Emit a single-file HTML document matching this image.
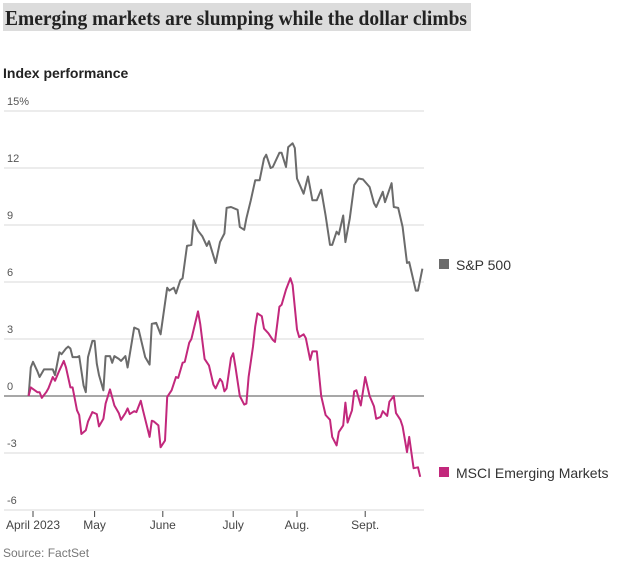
<!DOCTYPE html>
<html><head><meta charset="utf-8"><style>
body{margin:0;background:#fff;}
svg{display:block;font-family:"Liberation Sans",sans-serif;}
</style></head><body>
<svg id="chart" width="628" height="564" viewBox="0 0 628 564">
<rect x="3" y="3" width="468" height="28" fill="#dcdcdc"/>
<text x="5" y="25" font-family="Liberation Serif, serif" font-weight="bold" font-size="21" fill="#222" textLength="462" lengthAdjust="spacingAndGlyphs">Emerging markets are slumping while the dollar climbs</text>
<text x="3" y="78" font-weight="bold" font-size="14" fill="#222">Index performance</text>
<g id="grid"></g>
<g id="series"></g>
<g id="legend"></g>
<text x="3" y="557" font-size="12" fill="#777">Source: FactSet</text>
</svg>
<script>
const yTicks=[15,12,9,6,3,0,-3,-6];
const yTickLabels=["15%","12","9","6","3","0","-3","-6"];
const monthDays=[2,30,61,93,122,153];
const monthLabels=["April 2023","May","June","July","Aug.","Sept."];
const spDays=[0,1,2,4,5,7,9,11,12,14,15,17,18,19,20,22,23,25,26,27,29,30,31,32,34,35,37,38,39,41,42,44,45,48,50,53,55,56,58,60,63,64,66,67,69,70,72,74,75,77,79,81,82,85,87,89,90,92,95,96,98,99,101,103,105,107,108,110,111,114,115,117,118,120,121,122,125,127,129,131,133,135,137,138,140,141,143,144,146,148,150,152,155,157,158,161,162,165,166,168,170,172,173,176,177,179];
const spValues=[0,1.5,1.8,1.3,1.0,1.4,1.4,1.4,1.1,2.3,2.2,2.5,2.6,2.5,2.05,2.05,2.1,0.55,0.2,2.05,2.9,2.9,1.7,1.1,0.3,2.1,2.1,1.75,2.1,1.95,1.85,2.1,1.5,3.6,3.5,2.05,1.65,3.8,3.85,3.25,5.7,5.55,5.7,5.4,6.1,6.2,7.9,7.95,9.25,8.7,8.4,7.9,8.15,7.0,8.1,8.55,9.9,9.95,9.8,8.9,8.75,9.35,10.3,11.35,11.35,12.5,12.7,12.0,12.05,12.8,12.8,12.05,13.1,13.3,13.05,11.45,10.65,11.55,10.3,10.3,10.85,9.5,7.95,7.95,8.65,8.5,9.5,8.1,9.35,11.1,11.45,11.4,11.0,10.15,9.95,10.75,10.2,11.2,9.95,9.9,8.9,7.0,7.05,5.55,5.55,6.7];
const emDays=[0,1,4,5,6,8,9,11,12,14,16,17,19,20,22,23,24,26,27,29,31,32,34,35,37,39,40,41,42,44,45,46,48,49,51,52,55,56,57,59,60,62,63,65,67,68,70,71,73,74,77,78,80,82,84,85,87,88,89,90,92,93,94,96,98,99,100,102,103,104,106,107,109,111,112,114,115,117,119,120,122,123,125,126,128,129,131,133,135,137,138,140,141,143,144,145,147,148,149,151,153,155,157,158,160,161,163,164,166,167,169,170,172,173,175,177,178];
const emValues=[0,0.45,0.2,0.2,-0.1,0.2,0.4,1.0,0.8,1.35,1.85,1.5,0.45,0.45,-0.75,-1.0,-2.0,-1.8,-1.35,-0.85,-0.95,-1.6,-1.2,-0.4,0.35,-0.5,-0.7,-0.9,-1.25,-0.9,-0.65,-0.95,-0.8,-0.85,-0.25,-0.75,-2.15,-1.3,-1.35,-1.55,-2.7,-2.35,-0.05,0.3,1.0,0.95,1.75,1.8,2.8,3.0,4.45,3.8,1.95,1.6,0.6,0.4,0.9,0.75,0.25,0.4,2.0,2.25,1.55,0,-0.45,-0.4,1.0,2.6,3.65,4.35,4.2,3.55,3.3,2.95,2.85,4.7,4.8,5.6,6.2,5.85,3.5,3.1,3.25,3.05,1.9,2.35,2.35,0,-1.0,-1.25,-2.15,-2.6,-1.9,-1.55,-0.35,-1.4,-0.75,0.25,0.3,-0.5,1.0,0,-0.55,-1.2,-1.1,-0.8,-1.05,-0.3,0,-0.9,-1.25,-1.6,-2.95,-2.15,-3.8,-3.75,-4.25];
const NS="http://www.w3.org/2000/svg";
const xS=d=>28.6+2.2*d;
const yS=v=>396-19*v;
function mk(tag,attrs,parent){const e=document.createElementNS(NS,tag);for(const k in attrs)e.setAttribute(k,attrs[k]);parent.appendChild(e);return e;}
const grid=document.getElementById('grid');
yTicks.forEach((t,i)=>{
  const l=mk('line',{x1:4,x2:424,y1:yS(t),y2:yS(t),stroke:t===0?'#8a8a8a':'#ececec','stroke-width':t===0?1.5:2},grid);
  
  
  const tx=mk('text',{x:7,y:yS(t)-6,'font-size':11,fill:'#555'},grid);
  tx.textContent=yTickLabels[i];
  
  
});
monthDays.forEach((d,i)=>{
  const l=mk('line',{x1:xS(d),x2:xS(d),y1:511,y2:517,stroke:'#444','stroke-width':1},grid);
  
  
  const tx=mk('text',{x:xS(d),y:529,'font-size':12,fill:'#444','text-anchor':'middle'},grid);
  tx.textContent=monthLabels[i];
  
  
});
const ser=document.getElementById('series');
function line(days,vals,color,name){
  const d=days.map((x,i)=>(i?'L':'M')+xS(x).toFixed(1)+','+yS(vals[i]).toFixed(1)).join('');
  const p=mk('path',{d:d,fill:'none',stroke:color,'stroke-width':2,'stroke-linejoin':'round'},ser);
  
  
}
line(spDays,spValues,'#6b6b6b','sp500-line');
line(emDays,emValues,'#c2287c','msci-em-line');
const lg=document.getElementById('legend');
const r1=mk('rect',{x:439,y:259,width:10,height:10,fill:'#6b6b6b'},lg);


const t1=mk('text',{x:456,y:270,'font-size':14,fill:'#333'},lg);t1.textContent='S&P 500';


const r2=mk('rect',{x:439,y:467,width:10,height:10,fill:'#c2287c'},lg);


const t2=mk('text',{x:456,y:478,'font-size':14,fill:'#333'},lg);t2.textContent='MSCI Emerging Markets';


</script>
</body></html>
